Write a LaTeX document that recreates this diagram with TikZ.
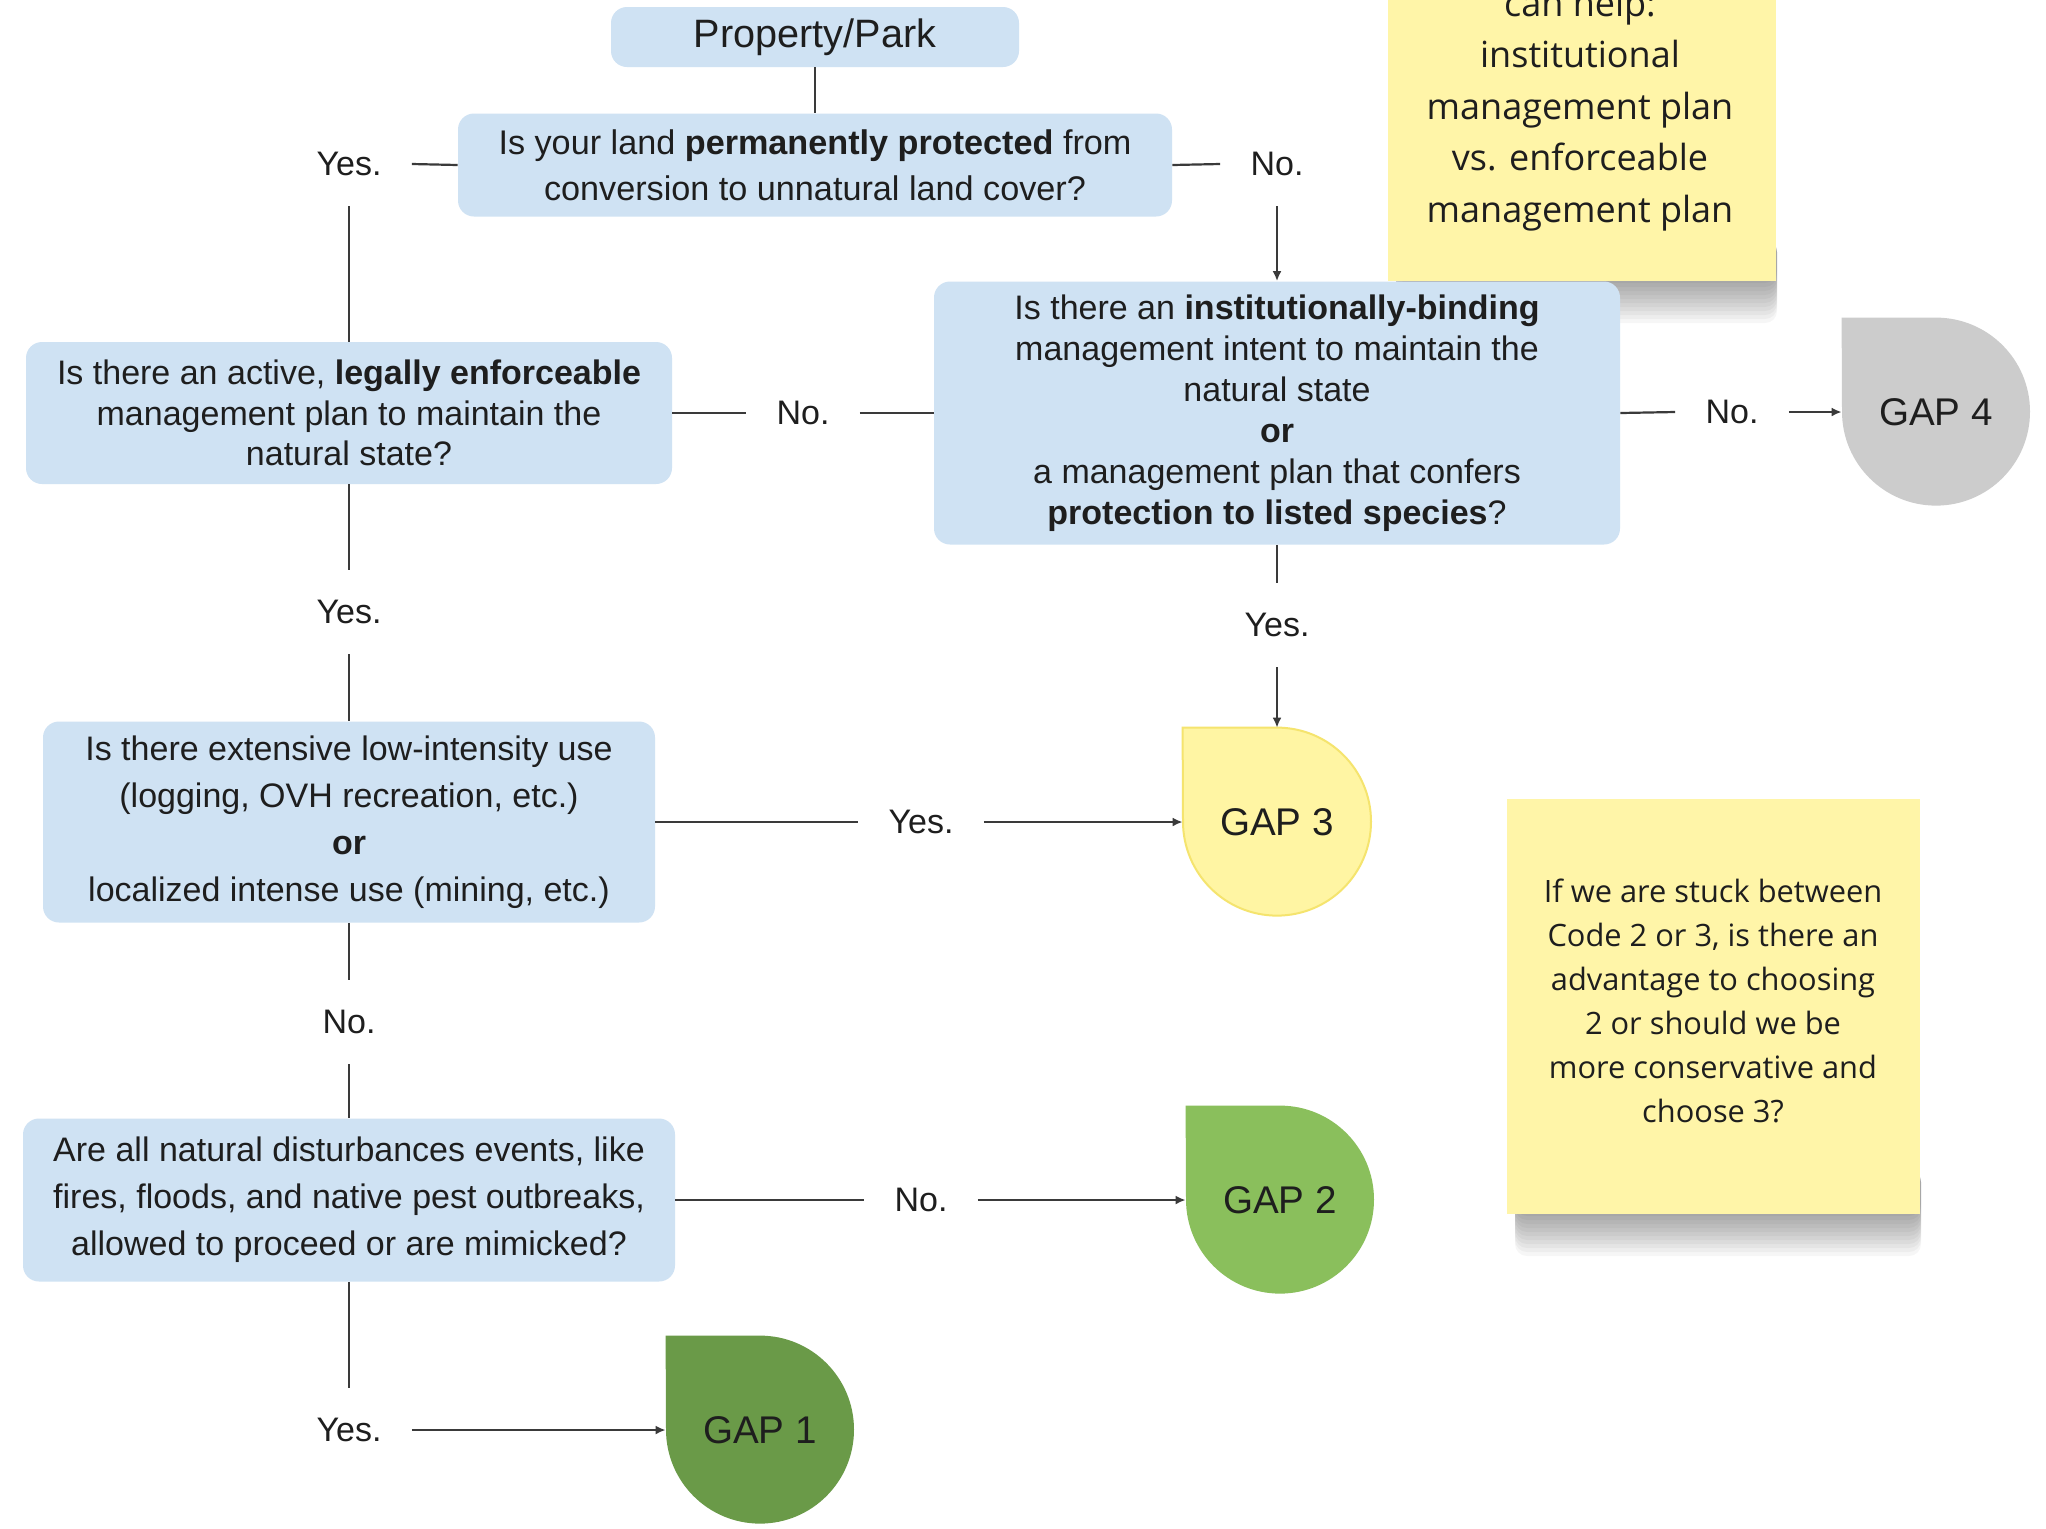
\documentclass[tikz,border=0pt]{standalone}
\usepackage{fontspec}
\setmainfont{Liberation Sans}
\newfontfamily\notefont{Open Sans}
\usetikzlibrary{arrows.meta}
\pgfdeclarelayer{bg}
\pgfsetlayers{bg,main}
\definecolor{boxblue}{HTML}{CFE2F3}
\definecolor{txt}{HTML}{1E1E1E}
\definecolor{linec}{HTML}{3A3A3A}
\definecolor{notey}{HTML}{FFF5A8}
\definecolor{gapgrey}{HTML}{CCCCCC}
\definecolor{gapyellow}{HTML}{FFF5A3}
\definecolor{gapyellowb}{HTML}{F5E46E}
\definecolor{gapgreen}{HTML}{8ABF5C}
\definecolor{gapdark}{HTML}{6A9A48}
\begin{document}
\begin{tikzpicture}[x=0.5pt,y=-0.5pt,
  every node/.style={text=txt},
  qbox/.style={fill=boxblue, rounded corners=8pt, align=center, inner sep=0pt},
  lbl/.style={font=\fontsize{17}{20}\selectfont, inner sep=15pt},
  conn/.style={draw=linec, line width=1.1pt},
  arr/.style={conn, -{Latex[length=5pt,width=4.5pt]}},
  gapnode/.style={minimum size=94pt, inner sep=0pt, font=\fontsize{19.3}{23}\selectfont},
  note/.style={fill=notey, inner sep=0pt},
  shade/.style={fill=black, opacity=0.035, rounded corners=6pt},
  notetext/.style={align=center, inner sep=0pt}
]
\useasboundingbox (0,0) rectangle (2046,1528);
\begin{pgfonlayer}{bg}
\fill[white] (0,0) rectangle (2046,1528);
\end{pgfonlayer}
\clip (0,0) rectangle (2046,1528);

% sticky note shadows
\foreach \d in {2,6,...,42} {
  \fill[shade] (1396,240) rectangle (1777,281+\d);
  \fill[shade] (1515,1170) rectangle (1921,1214+\d);
}

% sticky notes
\node[note, minimum width=194pt, minimum height=190.5pt] (n1) at (1582,90) {};
\node[notetext, font=\notefont\fontsize{18}{25.8}\selectfont] (n1t) at (1580,110)
  {can help:\\institutional\\management plan\\vs. enforceable\\management plan};
\node[note, minimum width=206.5pt, minimum height=207.5pt] (n2) at (1713,1006) {};
\node[notetext, font=\notefont\fontsize{15.4}{22}\selectfont] (n2t) at (1713,1001)
  {If we are stuck between\\Code 2 or 3, is there an\\advantage to choosing\\2 or should we be\\more conservative and\\choose 3?};

% boxes
\node[qbox, minimum width=204pt, minimum height=30pt, font=\fontsize{19.8}{23}\selectfont] (pp) at (815,37) {Property/Park};
\node[qbox, minimum width=357pt, minimum height=51.5pt, font=\fontsize{17.1}{23}\selectfont] (q1) at (815,165)
  {Is your land \textbf{permanently protected} from\\conversion to unnatural land cover?};
\node[qbox, minimum width=323pt, minimum height=71pt, font=\fontsize{17}{20.3}\selectfont] (q2) at (349,413)
  {Is there an active, \textbf{legally enforceable}\\management plan to maintain the\\natural state?};
\node[qbox, minimum width=343pt, minimum height=131.5pt, font=\fontsize{17}{20.5}\selectfont] (q3) at (1277,413)
  {Is there an \textbf{institutionally-binding}\\management intent to maintain the\\natural state\\\textbf{or}\\a management plan that confers\\\textbf{protection to listed species}?};
\node[qbox, minimum width=306pt, minimum height=100.5pt, font=\fontsize{17}{23.5}\selectfont] (q4) at (349,822)
  {Is there extensive low-intensity use\\(logging, OVH recreation, etc.)\\\textbf{or}\\localized intense use (mining, etc.)};
\node[qbox, minimum width=326pt, minimum height=81.5pt, font=\fontsize{17}{23.5}\selectfont] (q5) at (349,1200)
  {Are all natural disturbances events, like\\fires, floods, and native pest outbreaks,\\allowed to proceed or are mimicked?};

% gap nodes
\node[gapnode] (g4) at (1936,412) {GAP 4};
\node[gapnode] (g3) at (1277,822) {GAP 3};
\node[gapnode] (g2) at (1280,1200) {GAP 2};
\node[gapnode] (g1) at (760,1430) {GAP 1};
\begin{pgfonlayer}{bg}
\fill[gapgrey] (g4.north west) -- (g4.north) arc[start angle=90,end angle=-180,radius=47pt] -- cycle;
\filldraw[fill=gapyellow, draw=gapyellowb, line width=1pt] (g3.north west) -- (g3.north) arc[start angle=90,end angle=-180,radius=47pt] -- cycle;
\fill[gapgreen] (g2.north west) -- (g2.north) arc[start angle=90,end angle=-180,radius=47pt] -- cycle;
\fill[gapdark] (g1.north west) -- (g1.north) arc[start angle=90,end angle=-180,radius=47pt] -- cycle;
\end{pgfonlayer}

% labels
\node[lbl] (yes1) at (349,164) {Yes.};
\node[lbl] (no1) at (1277,164) {No.};
\node[lbl] (no2) at (803,413) {No.};
\node[lbl] (no3) at (1732,412) {No.};
\node[lbl] (yes2) at (349,612) {Yes.};
\node[lbl] (yes3) at (1277,625) {Yes.};
\node[lbl] (yes4) at (921,822) {Yes.};
\node[lbl] (no4) at (349,1022) {No.};
\node[lbl] (no5) at (921,1200) {No.};
\node[lbl] (yes5) at (349,1430) {Yes.};

% connectors
\draw[conn] (pp) -- (q1);
\draw[conn] (q1.west) -- (yes1.east);
\draw[conn] (yes1.south) -- (q2.north);
\draw[conn] (q1.east) -- (no1.west);
\draw[arr] (no1.south) -- (q3.north);
\draw[conn] (q2.east) -- (no2.west);
\draw[conn] (no2.east) -- (q3.west);
\draw[conn] (q3.east) -- (no3.west);
\draw[arr] (no3.east) -- (g4.west);
\draw[conn] (q3.south) -- (yes3.north);
\draw[arr] (yes3.south) -- (g3.north);
\draw[conn] (q2.south) -- (yes2.north);
\draw[conn] (yes2.south) -- (q4.north);
\draw[conn] (q4.east) -- (yes4.west);
\draw[arr] (yes4.east) -- (g3.west);
\draw[conn] (q4.south) -- (no4.north);
\draw[conn] (no4.south) -- (q5.north);
\draw[conn] (q5.east) -- (no5.west);
\draw[arr] (no5.east) -- (g2.west);
\draw[conn] (q5.south) -- (yes5.north);
\draw[arr] (yes5.east) -- (g1.west);
\end{tikzpicture}
\end{document}
